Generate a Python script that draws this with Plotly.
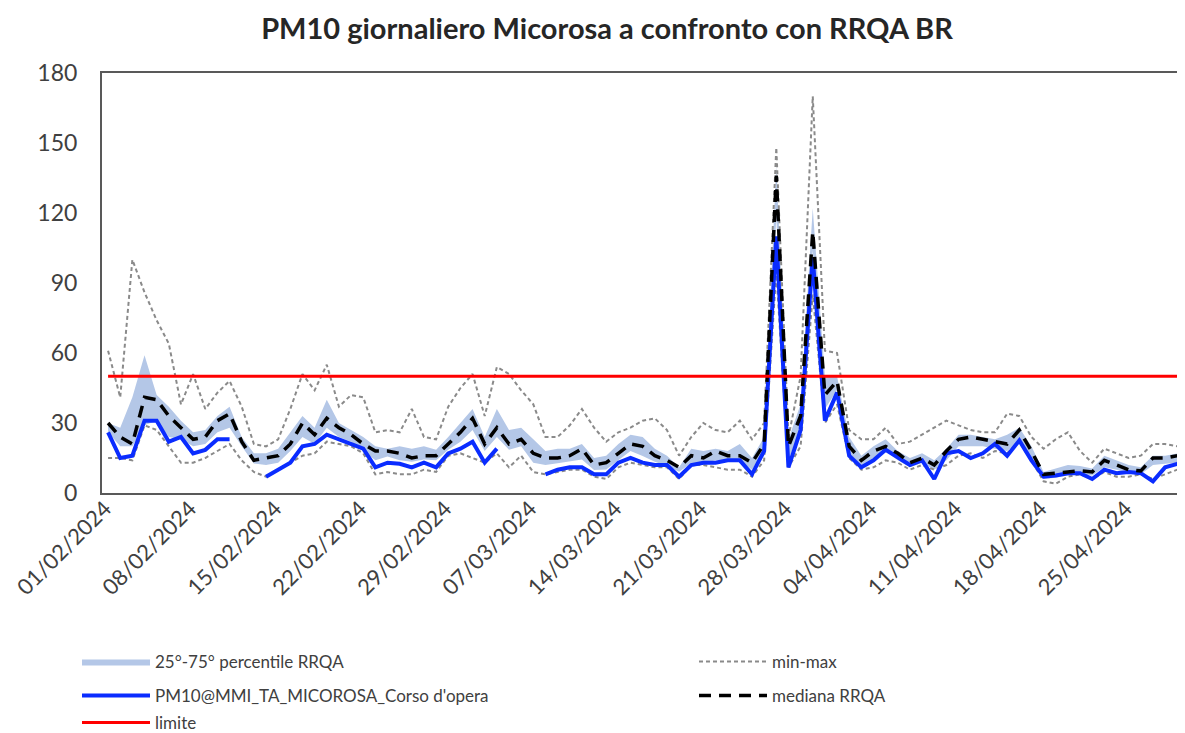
import pandas as pd
import plotly.graph_objects as go

# ---------------- data ----------------
DATES = pd.date_range("2024-02-01", "2024-04-30", freq="D")
TICK_DATES = pd.date_range("2024-02-01", "2024-04-25", freq="7D")
TICK_LABELS = [d.strftime("%d/%m/%Y") for d in TICK_DATES]

MAX_RRQA = [
    61, 41, 100, 86, 74, 64, 38, 51, 36, 43,
    48, 37, 21, 20, 23, 36, 51, 44, 55, 37,
    42, 41, 26, 27, 26, 36, 24, 23, 37, 45,
    51, 33, 54, 51, 44, 38, 24, 24, 29, 36,
    28, 22, 26, 28, 31, 32, 27, 16, 24, 30,
    27, 26, 31, 23, 30, 148, 24, 50, 170, 61,
    60, 27, 23, 23, 28, 21, 22, 25, 28, 31,
    29, 27, 26, 26, 34, 33, 24, 19, 23, 26,
    18, 13, 19, 17, 15, 16, 21, 21, 20, 23,
]
MIN_RRQA = [
    15, 15, 14, 29, 27, 20, 13, 13, 15, 18,
    21, 14, 9, 7, 10, 13, 16, 17, 22, 21,
    20, 17, 8, 9, 8, 8, 10, 9, 16, 17,
    15, 13, 17, 11, 16, 9, 8, 9, 10, 10,
    7, 6, 11, 13, 12, 11, 11, 6, 12, 12,
    11, 10, 10, 7, 14, 95, 11, 20, 85, 30,
    38, 15, 10, 11, 14, 13, 10, 12, 10, 12,
    16, 17, 15, 18, 17, 22, 14, 5, 4, 7,
    8, 6, 9, 7, 7, 8, 6, 8, 10, 12,
]
P25_RRQA = [
    26, 20, 20, 29, 31, 24, 23, 20, 21, 26,
    28, 20, 12.6, 12, 13, 18, 24, 21, 28, 24,
    22, 18, 14, 15.6, 14, 13.4, 14.4, 14, 18.5, 22,
    27, 18, 24, 18.5, 20, 13, 12, 12.7, 13.4, 14.4,
    9.9, 10.1, 14, 18, 15.9, 13.4, 11.6, 9.1, 12.7, 12.7,
    14, 13.4, 13.9, 10, 18, 118, 14, 28, 104, 36,
    44, 17, 12, 15, 18, 14, 11, 13, 10, 14,
    20, 20, 20, 19, 18, 22, 15, 6, 6.5, 7.5,
    8, 7.5, 11, 10, 8.5, 8, 12, 12.5, 13, 15,
]
P75_RRQA = [
    30, 28, 41, 59, 42, 37, 31, 26, 27, 33,
    37, 24, 17, 17, 19, 26, 33, 28, 40, 30,
    27, 24, 20, 19, 20, 19, 20, 18.5, 24, 30,
    36, 24, 36, 27, 28, 23, 18, 19, 19, 21,
    15, 16, 21, 25, 24, 19, 16, 11, 19, 18,
    19, 18, 21, 15, 24, 140, 23, 38, 122, 50,
    50, 24, 16, 20, 23, 18, 15, 17, 14, 19,
    25, 25, 24, 23, 25, 28, 20, 9, 10.5, 12,
    11.6, 10.5, 16, 14, 12, 11, 16, 16, 17, 19,
]
MEDIANA_RRQA = [
    30, 24, 21, 41, 40, 33, 28, 23, 24, 31,
    34, 22, 14, 15, 16, 21, 30, 25, 32, 28,
    25, 21, 18, 18, 17, 15, 16, 16, 21, 26,
    32, 21, 28, 21, 23, 17, 15, 15, 16, 19,
    12, 13, 17, 21, 20, 16, 14, 11, 16, 15,
    18, 16, 16, 13, 21, 136, 20, 33, 112, 42,
    48, 20, 14, 18, 20, 17, 13, 15, 12, 18,
    23, 24, 23, 22, 21, 27, 18, 8, 8.5, 9,
    9.5, 9, 14, 12, 10, 9.5, 15, 15, 16, 18,
]
MICOROSA = [
    26, 15, 16, 31, 31, 22, 24, 17, 18.5, 23,
    23, None, None, 7, 10, 13, 20, 21, 25, 23,
    21, 19, 11, 13, 12.5, 11, 13, 11, 17, 19,
    22, 13, 19, None, None, None, 8, 10, 11, 11,
    8, 8, 13, 15, 13, 12, 12, 7, 12, 13,
    13, 14, 14, 8, 18, 110, 11, 27, 101, 31,
    43, 16, 11, 14, 18.5, 15, 12, 14, 6, 17,
    18, 15, 17, 21, 16, 22.5, 14, 7, 7.5, 8.5,
    8.5, 6, 10, 8.5, 9, 8.5, 5, 11, 12.5, 15,
]
LIMITE_VALUE = 50
LIMITE = [LIMITE_VALUE] * len(DATES)

TITLE = "PM10 giornaliero Micorosa a confronto con RRQA BR"
NAME_BAND = "25°-75° percentile RRQA"
NAME_MINMAX = "min-max"
NAME_MICOROSA = "PM10@MMI_TA_MICOROSA_Corso d'opera"
NAME_MEDIANA = "mediana RRQA"
NAME_LIMITE = "limite"

# ---------------- style ----------------
# the page adds an 8px body margin, so the figure is drawn 8px smaller
W, H = 1177, 725
FONT = "Lato"
TXT = "#404040"
BAND = "#b4c7e7"
GREY = "#8a8a8a"
BLUE = "#0a2cff"
RED = "#ff0000"

fig = go.Figure()

fig.add_trace(go.Scatter(x=DATES, y=P25_RRQA, mode="lines", line=dict(width=0, color=BAND),
                         showlegend=False, hoverinfo="skip", legend="legend"))
fig.add_trace(go.Scatter(x=DATES, y=P75_RRQA, mode="lines", line=dict(width=0, color=BAND),
                         fill="tonexty", fillcolor=BAND, name=NAME_BAND, legend="legend"))

fig.add_trace(go.Scatter(x=DATES, y=MAX_RRQA, mode="lines", name=NAME_MINMAX,
                         line=dict(color=GREY, width=2, dash="4px,3px"),
                         legend="legend2", legendgroup="mm"))
fig.add_trace(go.Scatter(x=DATES, y=MIN_RRQA, mode="lines", name=NAME_MINMAX,
                         line=dict(color=GREY, width=2, dash="4px,3px"),
                         legend="legend2", legendgroup="mm", showlegend=False))

fig.add_trace(go.Scatter(x=DATES, y=MICOROSA, mode="lines", name=NAME_MICOROSA,
                         line=dict(color=BLUE, width=4), connectgaps=False,
                         legend="legend3"))

fig.add_trace(go.Scatter(x=DATES, y=MEDIANA_RRQA, mode="lines", name=NAME_MEDIANA,
                         line=dict(color="#000000", width=3.5, dash="12px,8px"),
                         legend="legend4"))

fig.add_trace(go.Scatter(x=DATES, y=LIMITE, mode="lines", name=NAME_LIMITE,
                         line=dict(color=RED, width=3), legend="legend5"))

def leg(px, py):
    return dict(xref="container", yref="container", x=px / W, y=1 - py / H,
                xanchor="left", yanchor="middle", orientation="v",
                font=dict(family=FONT, size=17, color=TXT), itemwidth=68,
                bgcolor="rgba(0,0,0,0)", borderwidth=0)

fig.update_layout(
    width=W, height=H,
    paper_bgcolor="white", plot_bgcolor="white",
    margin=dict(l=94, r=0, t=65, b=240, autoexpand=False),
    font=dict(family=FONT, color=TXT),
    title=dict(text="<b>" + TITLE + "</b>", x=599 / W, xanchor="center",
               xref="container", y=1 - 21 / H, yanchor="middle", yref="container",
               font=dict(family=FONT, size=29, color="#262626")),
    legend=leg(69, 654),
    legend2=leg(686, 654),
    legend3=leg(69, 688),
    legend4=leg(686, 688),
    legend5=leg(69, 715),
    hovermode=False,
)

fig.update_xaxes(
    type="date",
    range=["2024-01-31 12:00:00", "2024-04-29 15:20:00"],
    tickvals=list(TICK_DATES), ticktext=TICK_LABELS,
    tickangle=-45, tickfont=dict(family=FONT, size=22, color=TXT),
    showgrid=False, zeroline=False,
    showline=True, linecolor="#595959", linewidth=2, mirror=True,
    ticks="", ticklabelstandoff=-8, ticklabelshift=-3,
    ticklabeloverflow="allow",
)
fig.update_yaxes(
    range=[0, 180], tickvals=[0, 30, 60, 90, 120, 150, 180],
    tickfont=dict(family=FONT, size=23, color=TXT),
    showgrid=False, zeroline=False,
    showline=True, linecolor="#595959", linewidth=2, mirror=False,
    ticks="", ticklabelstandoff=18,
)

fig.write_html("out.html")
